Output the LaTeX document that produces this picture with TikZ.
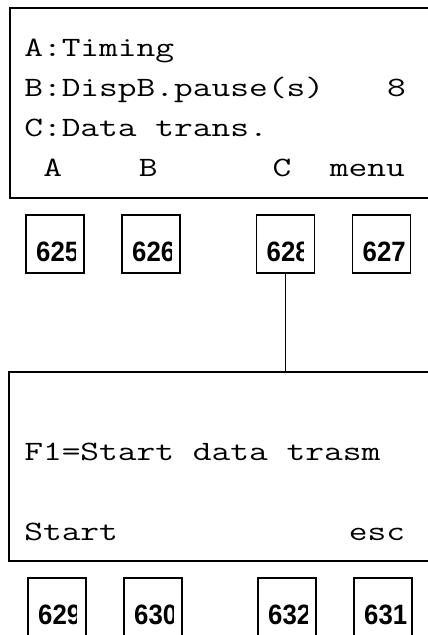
\documentclass[tikz,border=0pt]{standalone}
\usepackage{fontspec}
\newfontfamily\numfnt{Liberation Sans}
\tikzset{
  lcd/.style={draw, line width=1.8pt, rectangle, inner sep=0pt, anchor=north west},
  numbox/.style={draw, line width=1.2pt, rectangle, minimum width=58pt, minimum height=58pt, inner sep=0pt},
  lcdtxt/.style={font=\ttfamily\fontsize{28}{28}\selectfont, inner sep=0pt, anchor=base west, xscale=1.3},
  numtxt/.style={font=\numfnt\bfseries\fontsize{28}{28}\selectfont, inner sep=0pt, anchor=base west, xscale=0.92},
  link/.style={line width=1.2pt}
}
\newcommand\keybox[5]{%
  \node[numbox] (#1) at (#2,#3) {};
  \begin{scope}
    \clip (#2-29,#3-29) rectangle (#5,#3+29);
    \node[numtxt] (#1t) at (#2-19,#3+17) {#4};
  \end{scope}}
\begin{document}
\begin{tikzpicture}[x=1pt,y=-1pt]
\useasboundingbox (0,0) rectangle (428,635);
% first screen
\node[lcd, minimum width=440pt, minimum height=190pt] (scr1) at (9,7) {};
\node[lcdtxt] (l1) at (24,56) {A:Timing};
\node[lcdtxt] (l2) at (24,96) {B:DispB.pause(s)};
\node[lcdtxt] (l2v) at (24+19*19.1,96) {8};
\node[lcdtxt] (l3) at (24,136) {C:Data trans.};
\node[lcdtxt] (sa) at (24+1*19.1,176) {A};
\node[lcdtxt] (sb) at (24+6*19.1,176) {B};
\node[lcdtxt] (sc) at (24+13*19.1,176) {C};
\node[lcdtxt] (sm) at (24+16*19.1,176) {menu};
% keys row 1
\keybox{k625}{55}{244}{625}{75}
\keybox{k626}{151}{244}{626}{171}
\keybox{k628}{285.5}{244}{628}{303}
\keybox{k627}{381.5}{244}{627}{420}
% second screen
\node[lcd, minimum width=440pt, minimum height=189pt] (scr2) at (8,371) {};
\node[lcdtxt] (m1) at (24,460) {F1=Start data trasm};
\node[lcdtxt] (m2) at (24,540) {Start};
\node[lcdtxt] (m3) at (24+17*19.1,540) {esc};
% keys row 2
\keybox{k629}{57}{607}{629}{76}
\keybox{k630}{153}{607}{630}{173}
\keybox{k632}{287}{607}{632}{307}
\keybox{k631}{383}{607}{631}{420}
% connector
\draw[link] (k628.south) -- (k628.south |- scr2.north);
\end{tikzpicture}
\end{document}
